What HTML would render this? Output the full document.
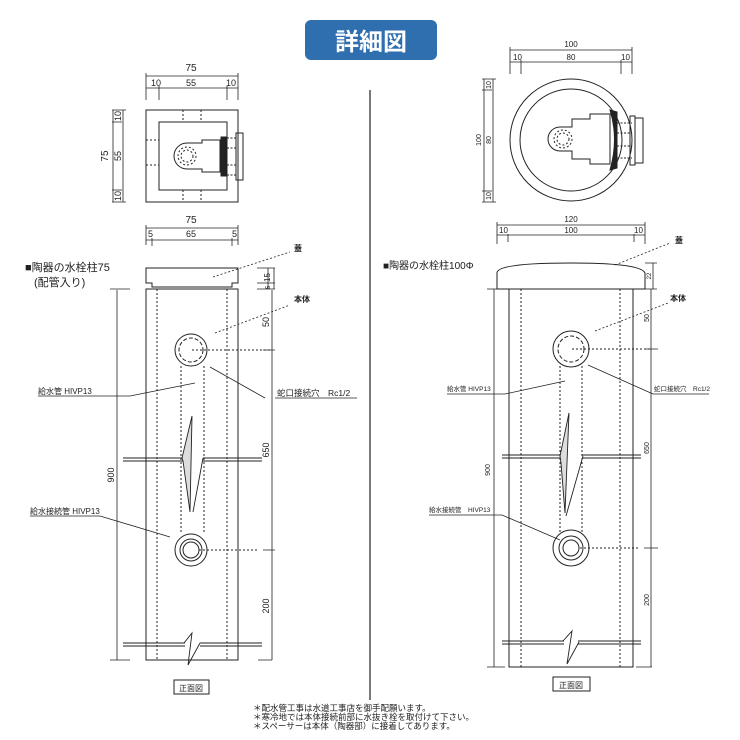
<!DOCTYPE html>
<html><head><meta charset="utf-8"><style>
html,body{margin:0;padding:0;background:#fff;}
svg{display:block;font-family:"Liberation Sans","Noto Sans CJK JP",sans-serif;}
</style></head><body>
<svg width="740" height="740" viewBox="0 0 740 740" xmlns="http://www.w3.org/2000/svg">
<rect width="740" height="740" fill="#fff"/>
<!-- title -->
<rect x="305" y="20" width="132" height="40" rx="6" fill="#2f6faf"/>
<text x="371" y="50" font-size="24" font-weight="bold" fill="#fff" text-anchor="middle">詳細図</text>
<line x1="370" y1="90" x2="370" y2="700" stroke="#222" stroke-width="1.2"/>

<g stroke="#222" fill="none" stroke-width="1">
<!-- LEFT top view -->
<rect x="146" y="110" width="92" height="92"/>
<rect x="159" y="122" width="68" height="68"/>
<path d="M183 110v12M201 110v12M183 190v12M201 190v12M146 140h13M146 165h13" stroke-dasharray="2,2"/>
<path d="M187 143a13 13 0 0 0 0 26h15v3h18v-32h-18v3z"/>
<circle cx="187" cy="156" r="9" stroke-dasharray="2,2"/>
<circle cx="187" cy="156" r="6" stroke-dasharray="2,2"/>
<rect x="221" y="137" width="6" height="39" fill="#222"/>
<path d="M227 138h9M227 175h9M227 148h9M227 165h9" stroke-dasharray="2,1.5"/>
<rect x="236" y="133" width="7" height="47"/>
<!-- dims top -->
<path d="M146 73v27M238 73v27M159 86v14M227 86v14M146 76h92M146 88h92M112 110h14M112 202h14M112 122h10M112 190h10M113 110v92M123 110v92" stroke-width="0.8"/>
<!-- 75/65 dims -->
<path d="M146 225v20M238 225v20M152 238v8M232 238v8M146 228h92M146 240h92" stroke-width="0.8"/>
<!-- LEFT front lid & body -->
<path d="M146 268h92v15h-6v4h-80v-4h-6z"/>
<rect x="146" y="289" width="92" height="371"/>
<path d="M157 289v371M227 289v371" stroke-dasharray="2,2"/>
<path d="M181 366v168M204 366v168" stroke-dasharray="2,2"/>
<circle cx="191" cy="350" r="16"/>
<circle cx="191" cy="350" r="12" stroke-dasharray="4,2"/>
<path d="M192 350h80" stroke-dasharray="2,2"/>
<circle cx="191" cy="550" r="16"/>
<circle cx="191" cy="550" r="11"/>
<circle cx="191" cy="550" r="8"/>
<path d="M199 550h60" stroke-dasharray="2,2"/>
<!-- break upper -->
<path d="M123 458h59M123 461h60M203 458h59M202 461h60" stroke-width="0.9"/>
<path d="M182 458l10-42 -2 96 -7 -51z M203 458l-10 54" stroke-width="0.9" fill="#ddd"/>
<!-- break lower -->
<path d="M123 643h62M123 646h62M200 643h62M200 646h62" stroke-width="0.9"/>
<path d="M184 643l8-10-4 32 12-22" stroke-width="0.9"/>
<!-- side dims -->
<path d="M272 290v370M263 350h12M263 550h12M258 660h14M117 290v370M110 289h20M110 660h20M257 268h18M257 283h18M257 289h18M268 268v21M274 268v21" stroke-width="0.8"/>
<!-- leaders -->
<path d="M213 277L290 252M215 333L290 305" stroke-dasharray="2,2" stroke-width="0.8"/>
<path d="M38 396h92L195 383M275 398h82M210 367L265 398M30 516h70L170 537" stroke-width="0.8"/>
<rect x="174" y="680" width="35" height="14"/>

<!-- RIGHT top view -->
<circle cx="571" cy="140" r="61"/>
<circle cx="571" cy="140" r="51"/>
<path d="M560 127a11 11 0 0 0 0 24h12v8h18v5h20v-50h-20v5h-18v8z"/>
<circle cx="563" cy="139" r="9" stroke-dasharray="2,2"/>
<circle cx="563" cy="139" r="6" stroke-dasharray="2,2"/>
<path d="M610 110q9 29 0 60l7-2v-56z" fill="#222"/>
<path d="M617 123h15M617 133h15M617 146h15M617 158h15" stroke-dasharray="2,1.5"/>
<rect x="630" y="116" width="5" height="49"/>
<rect x="635" y="118" width="8" height="45"/>
<path d="M510 47v27M632 47v27M521 60v14M621 60v14M510 50h122M510 62h122M482 79h14M482 202h14M482 90h10M482 191h10M484 79v123M493 79v123" stroke-width="0.8"/>
<path d="M497 222v22M645 222v22M508 234v8M634 234v8M497 225h148M497 235h148" stroke-width="0.8"/>
<!-- RIGHT front -->
<path d="M497 289v-16q0-10 74-10q70 0 74 10v16z"/>
<rect x="509" y="289" width="124" height="378"/>
<path d="M521 289v378M620 289v378" stroke-dasharray="2,2"/>
<path d="M560 366v166M582 366v166" stroke-dasharray="2,2"/>
<circle cx="571" cy="349" r="18"/>
<circle cx="571" cy="349" r="13" stroke-dasharray="4,2"/>
<path d="M572 349h78" stroke-dasharray="2,2"/>
<circle cx="571" cy="548" r="18"/>
<circle cx="571" cy="548" r="12"/>
<circle cx="571" cy="548" r="8"/>
<path d="M580 548h60" stroke-dasharray="2,2"/>
<path d="M502 455h58M502 458h58M582 455h59M582 458h59" stroke-width="0.9"/>
<path d="M560 456l9-43 -4 100 -4 -50z M583 456l-17 60" stroke-width="0.9" fill="#ddd"/>
<path d="M502 641h62M502 644h62M578 641h63M578 644h63" stroke-width="0.9"/>
<path d="M563 641l9-10-5 33 12-22" stroke-width="0.9"/>
<path d="M651 289v378M644 349h14M644 548h14M636 667h16M494 289v378M487 289h18M487 667h18M645 263h12M645 289h12M653 263v26" stroke-width="0.8"/>
<path d="M615 265L670 243M595 331L668 303" stroke-dasharray="2,2" stroke-width="0.8"/>
<path d="M447 394h58L565 381M653 394h56M588 365L653 394M429 515h73L560 540" stroke-width="0.8"/>
<rect x="553" y="677" width="37" height="14"/>
</g>

<g fill="#222" font-size="9">
<text x="191" y="71" font-size="10" text-anchor="middle">75</text>
<text x="151" y="86">10</text><text x="191" y="86" text-anchor="middle">55</text><text x="226" y="86">10</text>
<text x="108" y="156" font-size="10" transform="rotate(-90 108 156)" text-anchor="middle">75</text>
<text x="121" y="116" transform="rotate(-90 121 116)" text-anchor="middle">10</text>
<text x="121" y="156" transform="rotate(-90 121 156)" text-anchor="middle">55</text>
<text x="121" y="196" transform="rotate(-90 121 196)" text-anchor="middle">10</text>
<text x="191" y="223" font-size="10" text-anchor="middle">75</text>
<text x="148" y="237">5</text><text x="191" y="237" text-anchor="middle">65</text><text x="232" y="237">5</text>
<text x="25" y="271" font-size="11">■陶器の水栓柱75</text>
<text x="34" y="286" font-size="11">(配管入り)</text>
<text x="294" y="251" font-size="8" font-weight="bold">蓋</text>
<text x="294" y="302" font-size="8" font-weight="bold">本体</text>
<text x="270" y="282" font-size="8" transform="rotate(-90 270 282)">15</text>
<text x="270" y="289" font-size="6" transform="rotate(-90 270 289)">5</text>
<text x="269" y="322" transform="rotate(-90 269 322)" text-anchor="middle">50</text>
<text x="269" y="450" transform="rotate(-90 269 450)" text-anchor="middle">650</text>
<text x="269" y="606" transform="rotate(-90 269 606)" text-anchor="middle">200</text>
<text x="114" y="475" transform="rotate(-90 114 475)" text-anchor="middle">900</text>
<text x="38" y="394" font-size="8">給水管 HIVP13</text>
<text x="277" y="396" font-size="8.5">蛇口接続穴　Rc1/2</text>
<text x="30" y="514" font-size="8">給水接続管 HIVP13</text>
<text x="191" y="691" font-size="8" text-anchor="middle">正面図</text>

<text x="571" y="47" font-size="8" text-anchor="middle">100</text>
<text x="513" y="60" font-size="8">10</text><text x="571" y="60" font-size="8" text-anchor="middle">80</text><text x="621" y="60" font-size="8">10</text>
<text x="481" y="140" font-size="7" transform="rotate(-90 481 140)" text-anchor="middle">100</text>
<text x="491" y="85" font-size="7" transform="rotate(-90 491 85)" text-anchor="middle">10</text>
<text x="491" y="140" font-size="7" transform="rotate(-90 491 140)" text-anchor="middle">80</text>
<text x="491" y="196" font-size="7" transform="rotate(-90 491 196)" text-anchor="middle">10</text>
<text x="571" y="222" font-size="8" text-anchor="middle">120</text>
<text x="499" y="233" font-size="8">10</text><text x="571" y="233" font-size="8" text-anchor="middle">100</text><text x="634" y="233" font-size="8">10</text>
<text x="383" y="269" font-size="10">■陶器の水栓柱100Φ</text>
<text x="675" y="243" font-size="8" font-weight="bold">蓋</text>
<text x="670" y="301" font-size="8" font-weight="bold">本体</text>
<text x="651" y="276" font-size="6" transform="rotate(-90 651 276)" text-anchor="middle">22</text>
<text x="649" y="318" font-size="7" transform="rotate(-90 649 318)" text-anchor="middle">50</text>
<text x="649" y="448" font-size="7" transform="rotate(-90 649 448)" text-anchor="middle">650</text>
<text x="649" y="600" font-size="7" transform="rotate(-90 649 600)" text-anchor="middle">200</text>
<text x="490" y="470" font-size="7" transform="rotate(-90 490 470)" text-anchor="middle">900</text>
<text x="447" y="391" font-size="6.5">給水管 HIVP13</text>
<text x="654" y="391" font-size="6.5">蛇口接続穴　Rc1/2</text>
<text x="429" y="512" font-size="6.5">給水接続管　HIVP13</text>
<text x="571" y="688" font-size="8" text-anchor="middle">正面図</text>

<text x="253" y="711" font-size="8.5">＊配水管工事は水道工事店を御手配願います。</text>
<text x="253" y="720" font-size="8.5">＊寒冷地では本体接続前部に水抜き栓を取付けて下さい。</text>
<text x="253" y="729" font-size="8.5">＊スペーサーは本体（陶器部）に接着してあります。</text>
</g>
</svg>
</body></html>
